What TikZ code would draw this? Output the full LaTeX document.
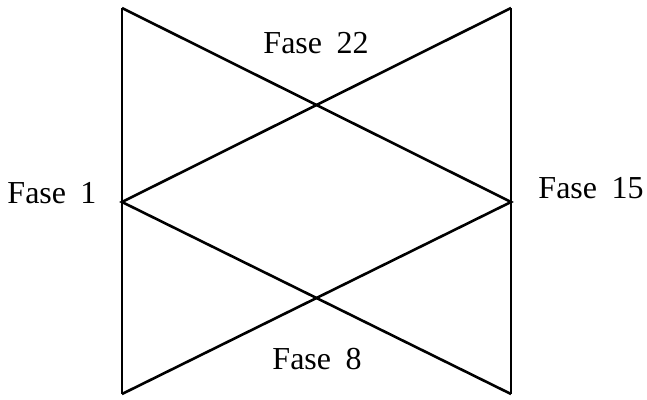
\documentclass[tikz,border=0pt]{standalone}
\usepackage{fontspec}
\setmainfont{Liberation Serif}
\begin{document}
\begin{tikzpicture}[x=1pt,y=-1pt,
  edge/.style={line width=2.6pt,line join=miter},
  lab/.style={font=\fontsize{32}{38}\selectfont,anchor=base,inner sep=0pt}]
\useasboundingbox (0,0) rectangle (647,399);
\coordinate (tl) at (122,8);
\coordinate (tr) at (511,8);
\coordinate (ml) at (122,202);
\coordinate (mr) at (511,202);
\coordinate (bl) at (122,394);
\coordinate (br) at (511,394);
\draw[edge] (tl) -- (bl);
\draw[edge] (tr) -- (br);
\draw[edge] (tl) -- (mr) -- (bl);
\draw[edge] (tr) -- (ml) -- (br);
\node[lab] (f22) at (316,53) {Fase\hspace{0.45em}22};
\node[lab] (f1) at (52,203) {Fase\hspace{0.45em}1};
\node[lab] (f15) at (591,198) {Fase\hspace{0.45em}15};
\node[lab] (f8) at (317,369) {Fase\hspace{0.45em}8};
\end{tikzpicture}
\end{document}
